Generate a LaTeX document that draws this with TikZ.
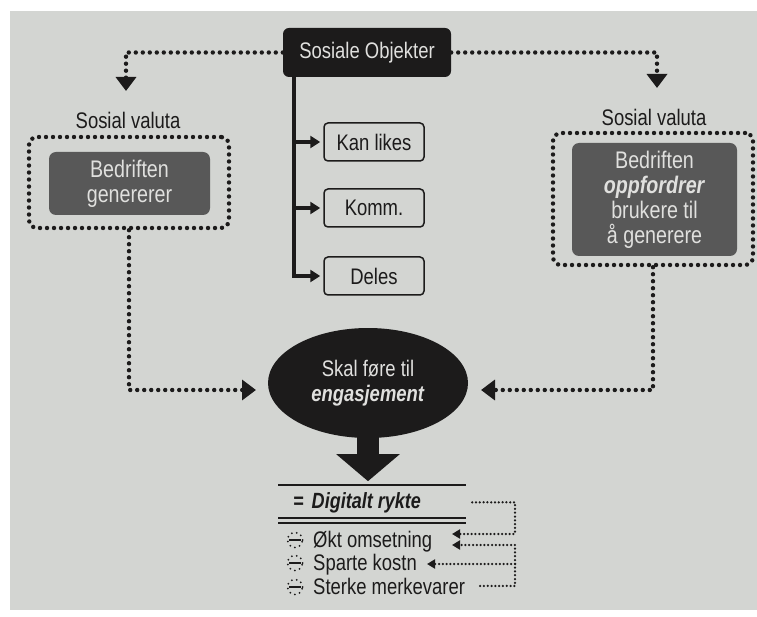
\documentclass[tikz,border=0pt]{standalone}
\usepackage{fontspec}
\setmainfont{Liberation Sans}[FakeStretch=0.82]
\usetikzlibrary{arrows.meta,shapes.geometric}
\definecolor{page}{RGB}{211,213,210}
\definecolor{ink}{RGB}{28,27,27}
\definecolor{slate}{RGB}{88,88,88}
\definecolor{paper}{RGB}{224,224,222}
\begin{document}
\begin{tikzpicture}[x=1pt,y=-1pt,
    txt/.style={font=\fontsize{22.5}{25}\selectfont, text=ink, inner sep=0pt},
    objbox/.style={txt, fill=ink, text=paper, rounded corners=6pt, minimum width=168pt, minimum height=49pt},
    likebox/.style={txt, draw=ink, line width=1.5pt, rounded corners=4pt, minimum width=100pt, minimum height=38pt},
    valbox/.style={txt, fill=slate, text=paper, rounded corners=7pt, align=center, font=\fontsize{24}{25}\selectfont},
    dotframe/.style={draw=ink, inner sep=0pt, line width=4.4pt, dash pattern=on 0pt off 7pt, line cap=round, rounded corners=8pt},
    dotline/.style={draw=ink, line width=4.4pt, dash pattern=on 0pt off 7pt, line cap=round, -{Triangle[width=20pt,length=14pt]}},
    trunk/.style={draw=ink, line width=3.5pt},
    branch/.style={trunk, -{Triangle[width=12pt,length=10pt]}, shorten >=3pt},
    smalldot/.style={draw=ink, line width=2.5pt, dash pattern=on 0pt off 3.8pt, line cap=round, -{Triangle[width=9pt,length=8pt]}},
    rule/.style={draw=ink, line width=1.8pt},
    bullet/.style={draw=ink, line width=2pt, dash pattern=on 0pt off 5pt, line cap=round},
]
    % Page
    \useasboundingbox (0,0) rectangle (757,617);
    \fill[white] (0,0) rectangle (757,617);
    \fill[page] (10,11) rectangle (757,610);

    % Social objects and what they can do
    \node[objbox] (obj) at (367,52.5) {Sosiale Objekter};
    \node[likebox] (likes) at (374,142) {Kan likes};
    \node[likebox] (komm) at (374,208) {Komm.};
    \node[likebox] (deles) at (374,276) {Deles};
    \coordinate (stem) at (294,0);
    \draw[branch] (obj.south -| stem) |- (deles.west);
    \foreach \b in {likes,komm} {
        \draw[branch] (stem |- \b.west) -- (\b.west);
    }

    % Social currency, left and right
    \node[txt] (lval) at (128,120) {Sosial valuta};
    \node[txt] (rval) at (654,117) {Sosial valuta};
    \node[dotframe, minimum width=200pt, minimum height=91pt] (lframe) at (129,182.5) {};
    \node[valbox, minimum width=161pt, minimum height=63pt] (lgen) at (129.5,183.5) {Bedriften\\genererer};
    \node[dotframe, minimum width=200pt, minimum height=132pt] (rframe) at (653,199) {};
    \node[valbox, minimum width=165pt, minimum height=113pt] (rgen) at (654.5,199.5)
        {Bedriften\\\textbf{\textit{oppfordrer}}\\brukere til\\å generere};
    \coordinate (ltip) at (126,91);
    \coordinate (rtip) at (657,88);
    \draw[dotline] (obj.west) -| (ltip);
    \draw[dotline] (obj.east) -| (rtip);

    % Engagement
    \node[ellipse, txt, fill=ink, text=paper, minimum width=200pt, minimum height=110pt, align=center] (eng) at (368,383)
        {Skal føre til\\\textbf{\textit{engasjement}}};
    \coordinate (eltip) at (256,390);
    \coordinate (ertip) at (481,390);
    \draw[dotline] (lframe.south) |- (eltip);
    \draw[dotline] (rframe.south) |- (ertip);
    \draw[ink, line width=22pt, -{Triangle[width=62pt,length=27pt]}] ([yshift=2pt]eng.south) -- ++(0,45);

    % Digital reputation
    \draw[rule] (278,485) -- (466,485);
    \node[txt, anchor=base west, font=\fontsize{22}{25}\selectfont\bfseries\itshape] (rykte) at (293,508) {=\hspace{8pt}Digitalt rykte};
    \draw[rule] (278,518) -- (466,518);
    \draw[rule] (278,523) -- (466,523);
    \foreach \nm/\yy/\txt in {okt/547/Økt omsetning, sparte/570/Sparte kostn, merke/594/Sterke merkevarer} {
        \node[txt, anchor=base west] (\nm) at (313,\yy) {\txt};
        \draw[bullet] (295,\yy-7) circle (7.5pt);
        \draw[ink, line width=1.6pt] (289,\yy-7) -- (301,\yy-7);
    }
    \coordinate (rail) at (515,0);
    \coordinate (okta) at (452,534);
    \coordinate (oktb) at (452,545);
    \coordinate (spartip) at (427,564);
    \draw[smalldot] ([xshift=51pt]rykte.east) -| (rail |- okta) -- (okta);
    \draw[smalldot] ([xshift=15pt]merke.east) -| (rail |- oktb) -- (oktb);
    \draw[smalldot] (rail |- spartip) -- (spartip);
\end{tikzpicture}
\end{document}
